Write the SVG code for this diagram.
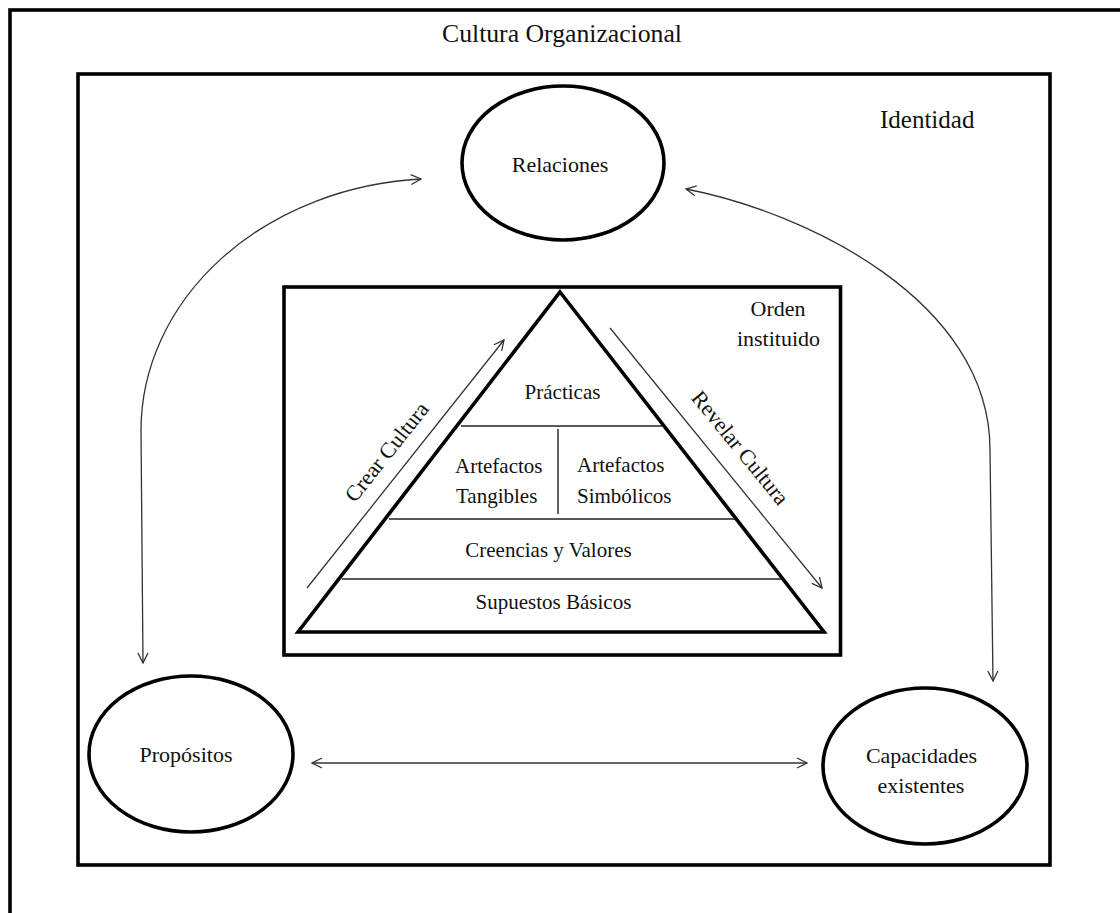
<svg xmlns="http://www.w3.org/2000/svg" width="1120" height="913" viewBox="0 0 1120 913">
  <style>
    .frame { fill: none; stroke: #000; stroke-width: 3.6; }
    .node { fill: #fff; stroke: #000; stroke-width: 3.6; }
    .div { fill: none; stroke: #222; stroke-width: 1.4; }
    .conn { fill: none; stroke: #333; stroke-width: 1.3; }
    .lbl { font-family: "Liberation Serif", "Times New Roman", serif; font-size: 22px; fill: #111; }
    .sm { font-size: 21px; }
    .big { font-size: 25px; }
    .mid { text-anchor: middle; }
  </style>
  <defs>
    <marker id="open" viewBox="0 0 12 12" refX="11" refY="6" markerWidth="12" markerHeight="12" markerUnits="userSpaceOnUse" orient="auto-start-reverse">
      <path d="M1,1 L11,6 L1,11" fill="none" stroke="#333" stroke-width="1.3"/>
    </marker>
  </defs>

  <rect width="1120" height="913" fill="#fff"/>

  <!-- outer frame: organisational culture -->
  <g id="cultura">
    <rect class="frame" x="10" y="10" width="1130" height="930"/>
    <text class="lbl big mid" x="562" y="42" textLength="240" lengthAdjust="spacingAndGlyphs">Cultura Organizacional</text>
  </g>

  <!-- identity frame -->
  <g id="identidad">
    <rect class="frame" x="78" y="74" width="972" height="791"/>
    <text class="lbl big" x="880" y="128">Identidad</text>
  </g>

  <!-- instituted order box with the culture pyramid -->
  <g id="orden">
    <rect class="frame" x="284" y="287" width="556.5" height="368"/>
    <text class="lbl mid" x="778" y="316">Orden</text>
    <text class="lbl mid" x="778.5" y="346">instituido</text>
  </g>

  <g id="piramide">
    <polygon class="frame" points="560,292 824,632 298,632" stroke-linejoin="miter"/>
    <line class="div" x1="461" y1="426" x2="662" y2="426"/>
    <line class="div" x1="389" y1="519" x2="735" y2="519"/>
    <line class="div" x1="342" y1="579" x2="781" y2="579"/>
    <line class="div" x1="558" y1="429" x2="558" y2="514"/>
  </g>

  <g id="practicas">
    <text class="lbl sm mid" x="562.5" y="399">Prácticas</text>
  </g>
  <g id="artefactos-tangibles">
    <text class="lbl sm" x="455" y="473">Artefactos</text>
    <text class="lbl sm" x="456" y="503">Tangibles</text>
  </g>
  <g id="artefactos-simbolicos">
    <text class="lbl sm" x="577" y="472">Artefactos</text>
    <text class="lbl sm" x="577" y="503">Simbólicos</text>
  </g>
  <g id="creencias">
    <text class="lbl sm mid" x="548.5" y="557">Creencias y Valores</text>
  </g>
  <g id="supuestos">
    <text class="lbl sm mid" x="553.5" y="609">Supuestos Básicos</text>
  </g>

  <!-- the three outer elements -->
  <g id="relaciones">
    <ellipse class="node" cx="563" cy="163" rx="101" ry="77"/>
    <text class="lbl mid" x="560" y="172">Relaciones</text>
  </g>
  <g id="propositos">
    <ellipse class="node" cx="191" cy="754" rx="102" ry="78"/>
    <text class="lbl mid" x="186" y="762">Propósitos</text>
  </g>
  <g id="capacidades">
    <ellipse class="node" cx="925" cy="766" rx="102" ry="78"/>
    <text class="lbl mid" x="921.5" y="763">Capacidades</text>
    <text class="lbl mid" x="921" y="793">existentes</text>
  </g>

  <!-- connectors -->
  <g id="conectores">
    <path class="conn" d="M143,663 L141,430 A299,252 0 0 1 421,179" marker-start="url(#open)" marker-end="url(#open)"/>
    <path class="conn" d="M993,681 L990,450 C990,300 805,212 686,189" marker-start="url(#open)" marker-end="url(#open)"/>
    <line class="conn" x1="312" y1="763" x2="807" y2="763" marker-start="url(#open)" marker-end="url(#open)"/>
    <line class="conn" x1="307" y1="588" x2="504" y2="340" marker-end="url(#open)"/>
    <line class="conn" x1="610" y1="328" x2="822" y2="588" marker-end="url(#open)"/>
    <text class="lbl mid" transform="translate(387,452) rotate(-51.5)" y="7">Crear Cultura</text>
    <text class="lbl mid" transform="translate(740,448) rotate(50.8)" y="7">Revelar Cultura</text>
  </g>
</svg>
